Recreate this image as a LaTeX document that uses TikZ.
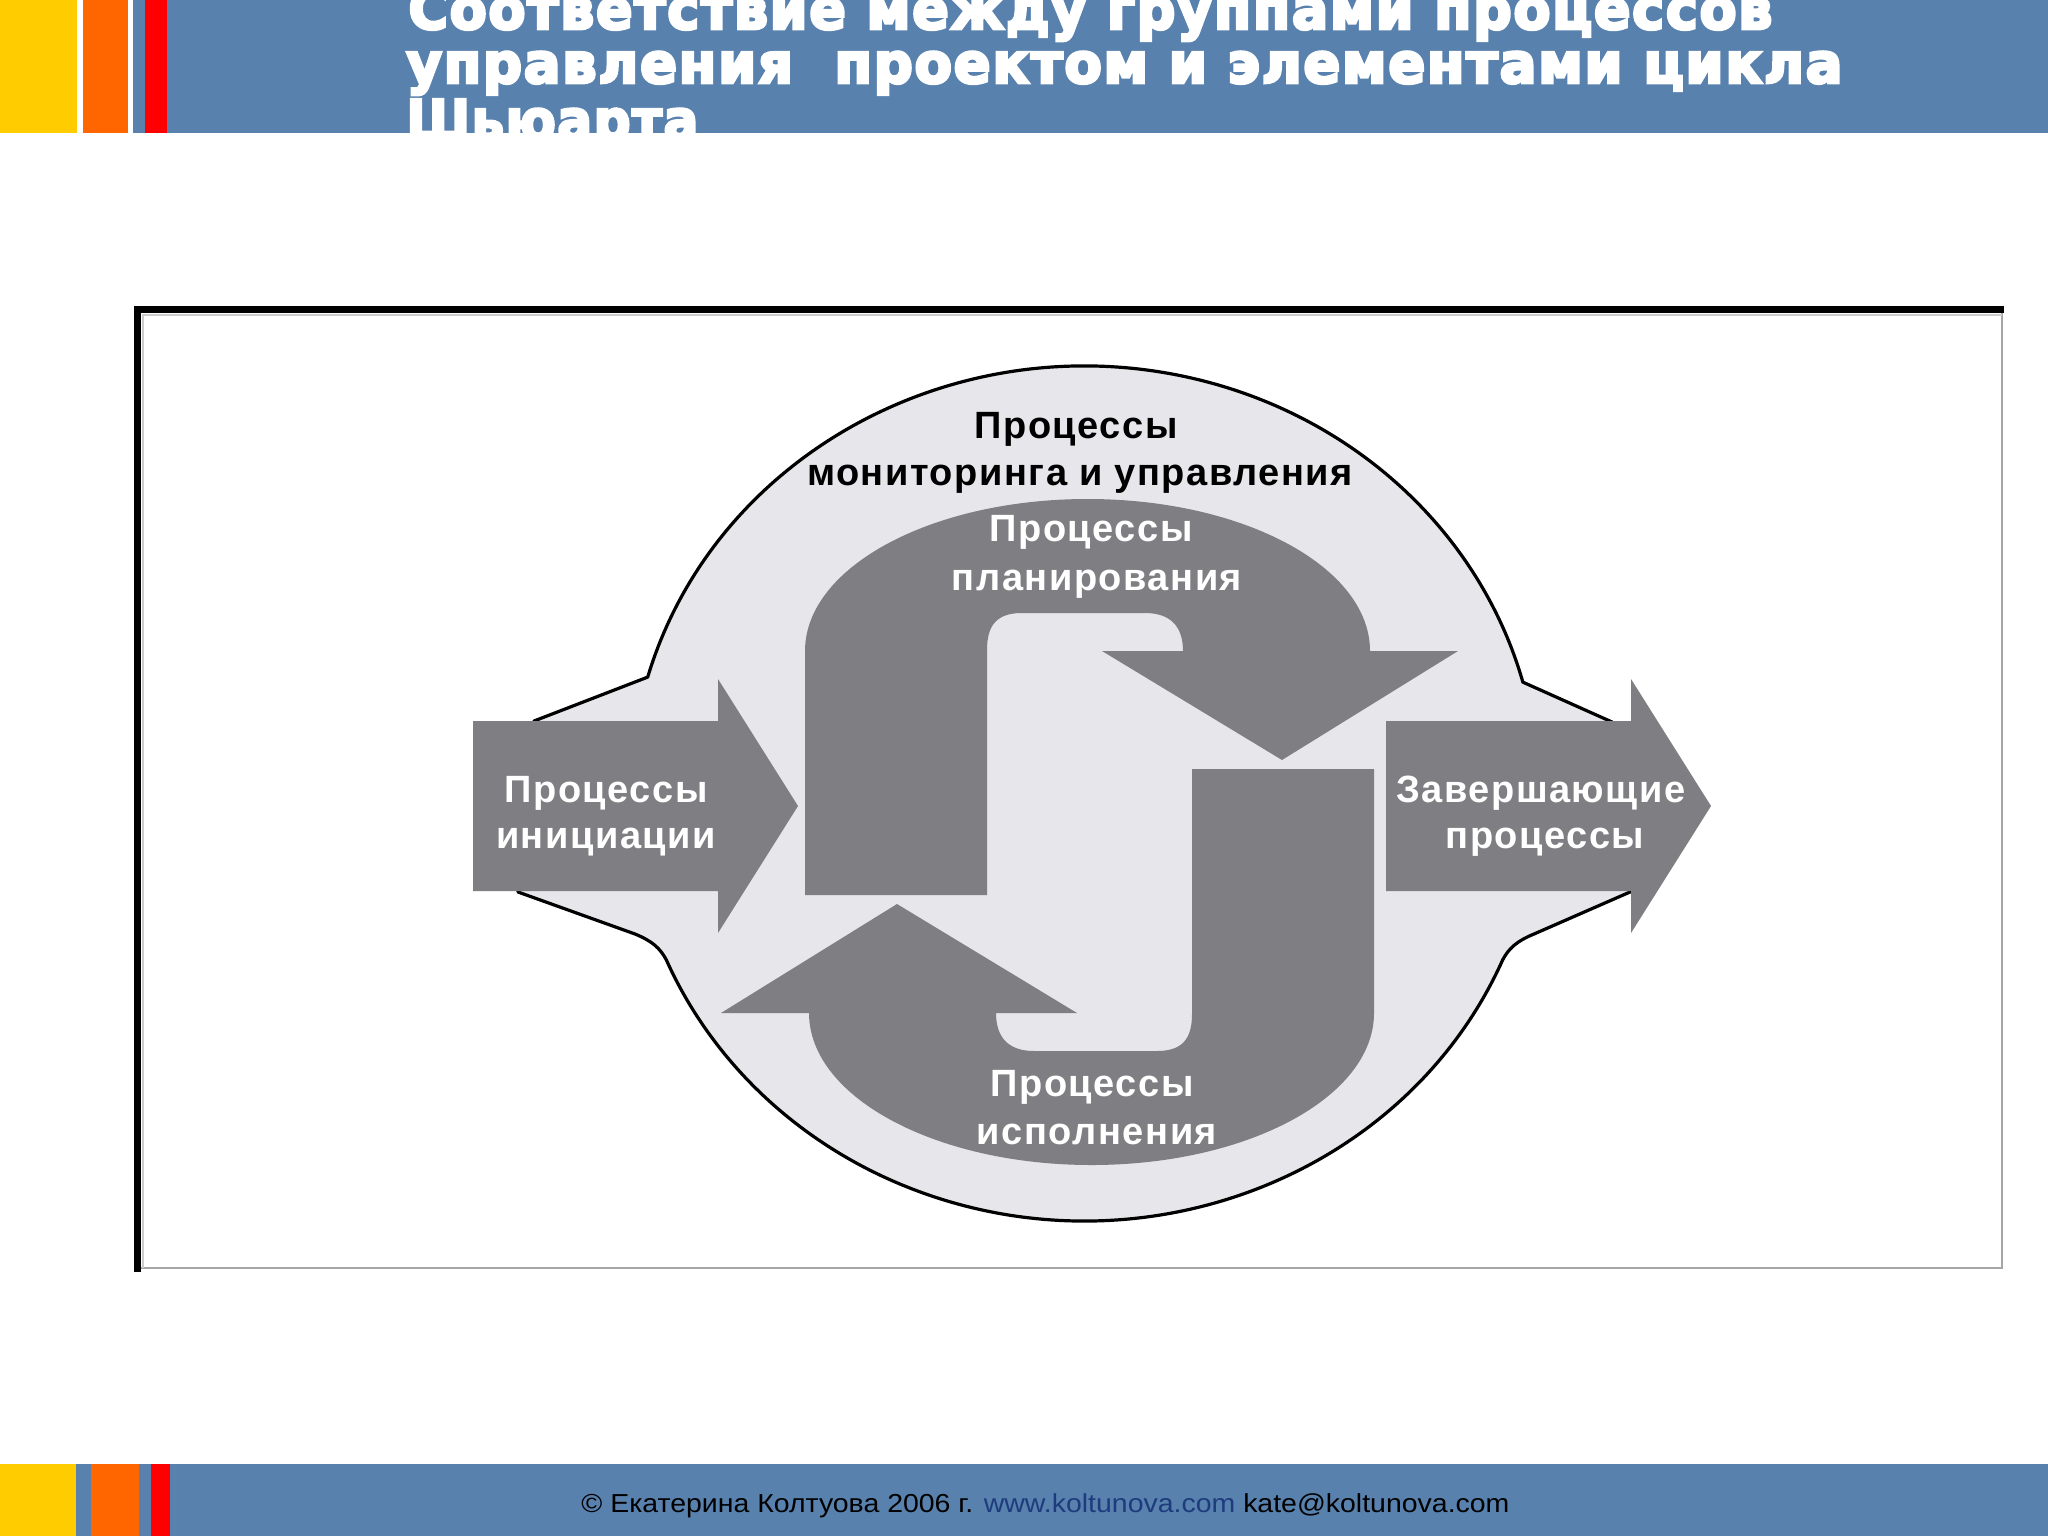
\documentclass[tikz,border=0pt]{standalone}
\usepackage{fontspec}
\usepackage{graphicx}
\setmainfont{Liberation Sans}
\newfontfamily\titlefont{DejaVu Sans}[LetterSpace=3.0,BoldFeatures={FakeBold=5}]
\newfontfamily\lblfont{Liberation Sans}[LetterSpace=4.0]
\definecolor{band}{RGB}{88,129,174}
\definecolor{ylw}{RGB}{255,204,0}
\definecolor{org}{RGB}{255,102,0}
\definecolor{rd}{RGB}{255,0,0}
\definecolor{arr}{RGB}{127,126,130}
\definecolor{blobc}{RGB}{231,230,234}
\definecolor{lnk}{RGB}{30,60,125}
\begin{document}
\begin{tikzpicture}[x=0.5pt,y=-0.5pt,
  garrow/.style={fill=arr,draw=none},
  lbl/.style={text=white,font=\lblfont\fontsize{19}{23}\selectfont\bfseries,anchor=base,inner sep=0},
  blk/.style={text=black,font=\lblfont\fontsize{19}{23}\selectfont\bfseries,anchor=base,inner sep=0},
  ttl/.style={text=white,font=\titlefont\bfseries\fontsize{28}{30}\selectfont,anchor=base west,inner sep=0},
  foot/.style={text=black,font=\fontsize{13}{15}\selectfont,anchor=base west,inner sep=0}]
\useasboundingbox (0,0) rectangle (2048,1536);
\fill[white] (0,0) rectangle (2048,1536);
% header band
\fill[band] (133,0) rectangle (2048,133);
\fill[ylw] (0,0) rectangle (77,133);
\fill[org] (83,0) rectangle (128,133);
\fill[rd] (145,0) rectangle (167,133);
\begin{scope}
\clip (133,0) rectangle (2048,133);
\node[ttl] (t1) at (408,29) {\resizebox{682pt}{\height}{Соответствие между группами процессов}};
\node[ttl] (t2) at (406,83) {\resizebox{718pt}{\height}{управления\ \ проектом и элементами цикла}};
\node[ttl] (t3) at (406,140) {\resizebox{146pt}{\height}{Шьюарта}};
\end{scope}
% footer band
\fill[band] (0,1464) rectangle (2048,1536);
\fill[ylw] (0,1464) rectangle (76,1536);
\fill[org] (91,1464) rectangle (139,1536);
\fill[rd] (151,1464) rectangle (170,1536);
\node[foot] (ft) at (581,1512) {\resizebox{464pt}{\height}{© Екатерина Колтуова 2006 г. \textcolor{lnk}{www.koltunova.com} kate@koltunova.com}};
% frame
\fill[white] (134,306) rectangle (2002,1268);
\draw[black!35,line width=0.6pt] (137,1268) -- (2002,1268) -- (2002,309);
\draw[black!20,line width=0.6pt] (143,1268) -- (143,315) -- (2002,315);
\draw[black,line width=3.5pt,line cap=rect] (137.5,1268) -- (137.5,309.5) -- (2000,309.5);
% monitoring blob
\path[fill=blobc,draw=black,line width=1.6pt,line join=round]
  (534,721) -- (647.7,677.1)
  arc[start angle=195.8,end angle=344.9,x radius=454,y radius=427.5]
  -- (1612,722) -- (1630,892) -- (1534,934)
  .. controls (1517,941) and (1509,948) .. (1502.7,959.8)
  arc[start angle=22.9,end angle=157.1,x radius=454,y radius=427.5]
  .. controls (660,948) and (652,941) .. (635,934) -- (518,892) -- cycle;
% planning arrow
\path[garrow] (805,895) -- (805,651)
  arc[start angle=180,end angle=360,x radius=282.5,y radius=152]
  -- (1458,651) -- (1282,760) -- (1102,651) -- (1183,651)
  .. controls (1183,626) and (1170,613) .. (1145,613) -- (1022,613)
  .. controls (996,613) and (987,626) .. (987,650) -- (987,895) -- cycle;
% execution arrow (same shape turned half round)
\path[garrow,rotate around={180:(1089.5,832)}] (805,895) -- (805,651)
  arc[start angle=180,end angle=360,x radius=282.5,y radius=152]
  -- (1458,651) -- (1282,760) -- (1102,651) -- (1183,651)
  .. controls (1183,626) and (1170,613) .. (1145,613) -- (1022,613)
  .. controls (996,613) and (987,626) .. (987,650) -- (987,895) -- cycle;
% initiation arrow
\path[garrow] (473,721) -- (718,721) -- (718,679) -- (798,806) -- (718,933) -- (718,891) -- (473,891) -- cycle;
% closing arrow
\path[garrow] (1386,721) -- (1631,721) -- (1631,679) -- (1711,806) -- (1631,933) -- (1631,891) -- (1386,891) -- cycle;
% labels
\node[blk] (m1) at (1076,438) {Процессы};
\node[blk] (m2) at (1080,485) {мониторинга и управления};
\node[lbl] (p1) at (1091,541) {Процессы};
\node[lbl] (p2) at (1097,590) {планирования};
\node[lbl] (i1) at (606,802) {Процессы};
\node[lbl] (i2) at (606,848) {инициации};
\node[lbl] (c1) at (1541,802) {Завершающие};
\node[lbl] (c2) at (1545,848) {процессы};
\node[lbl] (e1) at (1092,1096) {Процессы};
\node[lbl] (e2) at (1097,1144) {исполнения};
\end{tikzpicture}
\end{document}
